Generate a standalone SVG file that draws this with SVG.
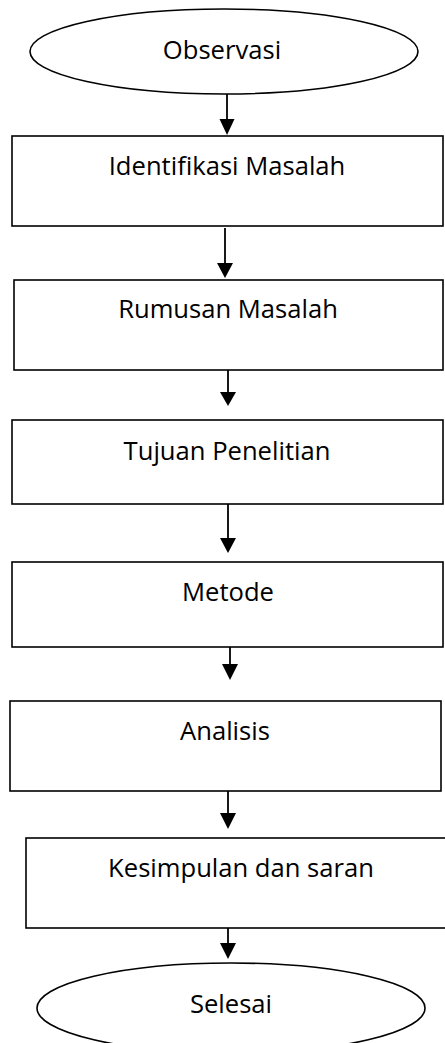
<svg xmlns="http://www.w3.org/2000/svg" width="445" height="1043" viewBox="0 0 445 1043">
<style>
.shape{fill:#fff;stroke:#000;stroke-width:1.6}
.lbl{font-family:"Open Sans","Noto Sans","Liberation Sans",sans-serif;font-size:25.6px;fill:#000;text-anchor:middle}
.conn{stroke:#000;stroke-width:1.8;fill:none}
.head{fill:#000}
</style>
<rect width="445" height="1043" fill="#fff"/>
<g id="connectors">
<line class="conn" x1="227" y1="94" x2="227" y2="120"/><polygon class="head" points="219.5,119 234.5,119 227,135"/>
<line class="conn" x1="225" y1="228" x2="225" y2="264"/><polygon class="head" points="217,263 233,263 225,278"/>
<line class="conn" x1="228" y1="370" x2="228" y2="393"/><polygon class="head" points="220,392 236,392 228,406"/>
<line class="conn" x1="228" y1="504" x2="228" y2="539"/><polygon class="head" points="220,538 236,538 228,553"/>
<line class="conn" x1="230" y1="647" x2="230" y2="665"/><polygon class="head" points="222,664 238,664 230,680"/>
<line class="conn" x1="228" y1="791" x2="228" y2="814"/><polygon class="head" points="220,813 236,813 228,829"/>
<line class="conn" x1="228" y1="924" x2="228" y2="944"/><polygon class="head" points="220,943 236,943 228,959"/>
</g>
<g id="observasi">
<ellipse class="shape" cx="224" cy="51.5" rx="194" ry="42.5"/>
<text class="lbl" x="222" y="59">Observasi</text>
</g>
<g id="identifikasi">
<rect class="shape" x="12" y="136" width="431" height="90"/>
<text class="lbl" x="227" y="175">Identifikasi Masalah</text>
</g>
<g id="rumusan">
<rect class="shape" x="14" y="280" width="429" height="90"/>
<text class="lbl" x="228" y="318">Rumusan Masalah</text>
</g>
<g id="tujuan">
<rect class="shape" x="12" y="420" width="431" height="84"/>
<text class="lbl" x="227" y="460">Tujuan Penelitian</text>
</g>
<g id="metode">
<rect class="shape" x="12" y="562" width="431" height="85"/>
<text class="lbl" x="228" y="601">Metode</text>
</g>
<g id="analisis">
<rect class="shape" x="10" y="701" width="431" height="90"/>
<text class="lbl" x="225" y="740">Analisis</text>
</g>
<g id="kesimpulan">
<rect class="shape" x="26" y="838" width="425" height="90"/>
<text class="lbl" x="241" y="877">Kesimpulan dan saran</text>
</g>
<g id="selesai">
<ellipse class="shape" cx="231" cy="1008" rx="194" ry="45"/>
<text class="lbl" x="231" y="1013">Selesai</text>
</g>
</svg>
